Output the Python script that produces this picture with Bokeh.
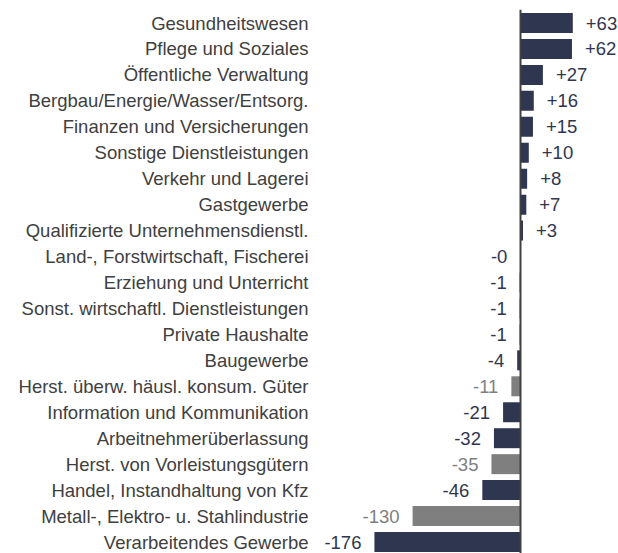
from bokeh.plotting import figure
from bokeh.models import ColumnDataSource, Range1d
from bokeh.core.properties import value
from bokeh.embed import file_html
from bokeh.resources import INLINE

categories = [
    "Gesundheitswesen",
    "Pflege und Soziales",
    "Öffentliche Verwaltung",
    "Bergbau/Energie/Wasser/Entsorg.",
    "Finanzen und Versicherungen",
    "Sonstige Dienstleistungen",
    "Verkehr und Lagerei",
    "Gastgewerbe",
    "Qualifizierte Unternehmensdienstl.",
    "Land-, Forstwirtschaft, Fischerei",
    "Erziehung und Unterricht",
    "Sonst. wirtschaftl. Dienstleistungen",
    "Private Haushalte",
    "Baugewerbe",
    "Herst. überw. häusl. konsum. Güter",
    "Information und Kommunikation",
    "Arbeitnehmerüberlassung",
    "Herst. von Vorleistungsgütern",
    "Handel, Instandhaltung von Kfz",
    "Metall-, Elektro- u. Stahlindustrie",
    "Verarbeitendes Gewerbe",
]
values = [63, 62, 27, 16, 15, 10, 8, 7, 3, -0.2, -1, -1, -1, -4, -11, -21, -32, -35, -46, -130, -176]
highlight_grey = [False, False, False, False, False, False, False, False, False, False,
                  False, False, False, False, True, False, False, True, False, True, False]

NAVY = "#2f3650"
GREY = "#7f7f7f"
LABEL = "#404040"
FONT = "Liberation Sans"
FS = "18.5px"

rows = list(range(len(categories)))
bar_colors = [GREY if g else NAVY for g in highlight_grey]
val_labels = [format(v, "+.0f") for v in values]
pos = [v >= 0 for v in values]

src = ColumnDataSource(dict(
    y=rows, cat=categories, v=values, col=bar_colors, lab=val_labels,
    zero=[0] * len(rows),
))
pos_src = ColumnDataSource(dict(
    y=[r for r, p in zip(rows, pos) if p],
    v=[v for v, p in zip(values, pos) if p],
    lab=[l for l, p in zip(val_labels, pos) if p],
    col=[NAVY if not g else GREY for g, p in zip(highlight_grey, pos) if p],
))
neg_src = ColumnDataSource(dict(
    y=[r for r, p in zip(rows, pos) if not p],
    v=[v for v, p in zip(values, pos) if not p],
    lab=[l for l, p in zip(val_labels, pos) if not p],
    col=[NAVY if not g else GREY for g, p in zip(highlight_grey, pos) if not p],
))

W, H = 618, 553
px_per_unit = 0.83
zero_px = 520
row_px = 25.95
row0_px = 22.5

p = figure(width=W, height=H, output_backend="svg", toolbar_location=None,
           x_range=Range1d(-zero_px / px_per_unit, (W - zero_px) / px_per_unit),
           y_range=Range1d((H - row0_px) / row_px, -row0_px / row_px),
           min_border=0)
p.axis.visible = False
p.grid.visible = False
p.outline_line_color = None
p.background_fill_color = "white"
p.border_fill_color = "white"

p.hbar(y="y", left="zero", right="v", height=0.77, fill_color="col", line_color=None, source=src)
p.segment(x0=[0], x1=[0], y0=[-0.51], y1=[22], line_color=LABEL, line_width=2)

p.text(x="zero", y="y", text="cat", source=src, text_align="right", text_baseline="middle",
       x_offset=-212, text_font=value(FONT), text_font_size=FS, text_color=LABEL)
p.text(x="v", y="y", text="lab", source=pos_src, text_align="left", text_baseline="middle",
       x_offset=13, text_font=value(FONT), text_font_size=FS, text_color="col")
p.text(x="v", y="y", text="lab", source=neg_src, text_align="right", text_baseline="middle",
       x_offset=-13, text_font=value(FONT), text_font_size=FS, text_color="col")

open("out.html", "w").write(file_html(p, INLINE))
